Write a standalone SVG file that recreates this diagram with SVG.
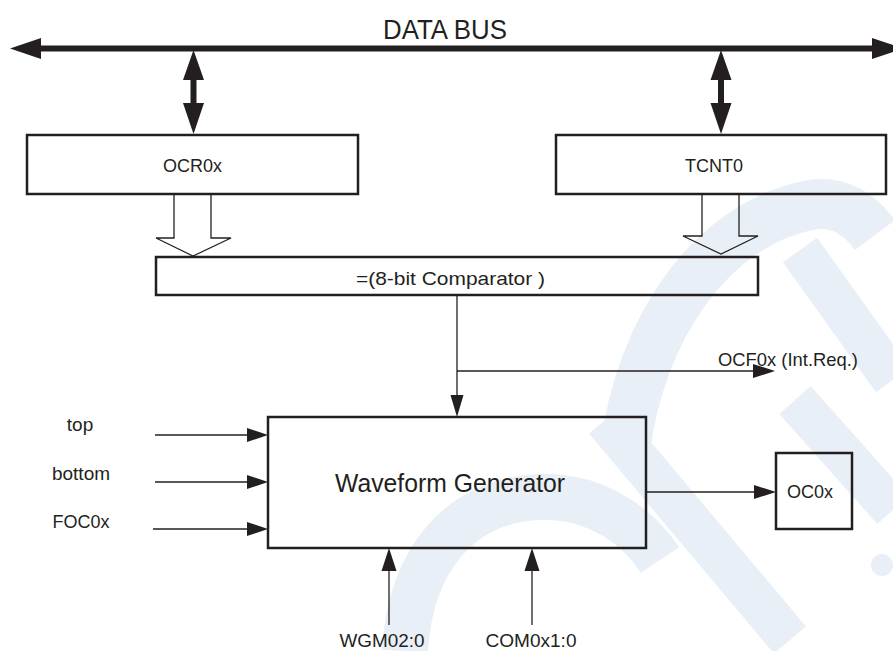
<svg xmlns="http://www.w3.org/2000/svg" width="893" height="651" viewBox="0 0 893 651">
<style>
  .box { fill: none; stroke: #231f20; stroke-width: 2.5; }
  .ln { fill: none; stroke: #231f20; stroke-width: 1.3; }
  .bus { fill: none; stroke: #231f20; stroke-width: 6; }
  .head { fill: #231f20; stroke: none; }
  .hollow { fill: none; stroke: #231f20; stroke-width: 1.3; stroke-linejoin: miter; }
  .t { font-family: "Liberation Sans", Arial, sans-serif; fill: #231f20; text-anchor: middle; }
  .s { font-size: 19px; }
  .wm { fill: none; stroke: #e9eff7; }
</style>
<rect width="893" height="651" fill="#ffffff"/>
<g id="watermark">
  <path class="wm" stroke-width="46" d="M 405 651 C 410 560 460 500 540 497 C 600 495 640 530 660 560"/>
  <path class="wm" stroke-width="50" d="M 625 450 C 640 330 710 225 810 205 C 840 200 860 215 875 235"/>
  <path class="wm" stroke-width="42" d="M 605 420 L 790 640"/>
  <path class="wm" stroke-width="42" d="M 800 250 L 893 380"/>
  <path class="wm" stroke-width="42" d="M 795 400 L 893 510"/>
  <circle cx="882" cy="565" r="11" fill="#e9eff7"/>
</g>
<g id="connectors">
  <line class="bus" x1="36" y1="48.5" x2="876" y2="48.5"/>
  <polygon class="head" points="10,48.5 41,38 41,59"/>
  <polygon class="head" points="903,48.5 872,38 872,59"/>
  <line class="bus" x1="193.5" y1="76" x2="193.5" y2="108"/>
  <polygon class="head" points="193.5,50 183,80 204,80"/>
  <polygon class="head" points="193.5,134 183,103 204,103"/>
  <line class="bus" x1="721" y1="76" x2="721" y2="108"/>
  <polygon class="head" points="721,50 710.5,80 731.5,80"/>
  <polygon class="head" points="721,134 710.5,103 731.5,103"/>
  <polygon class="hollow" points="174,194 174,238 156,238 193,256 231,238 211,238 211,194"/>
  <polygon class="hollow" points="702,194 702,236 683,236 721,254 758,236 739,236 739,194"/>
  <line class="ln" x1="457" y1="295" x2="457" y2="397"/>
  <polygon class="head" points="450.5,395 463.5,395 457,417"/>
  <line class="ln" x1="457" y1="371" x2="755" y2="371"/>
  <polygon class="head" points="753,364 753,378 775,371"/>
  <line class="ln" x1="155" y1="435" x2="249" y2="435"/>
  <polygon class="head" points="247,428 247,442 268,435"/>
  <line class="ln" x1="155" y1="482" x2="249" y2="482"/>
  <polygon class="head" points="247,475 247,489 268,482"/>
  <line class="ln" x1="153" y1="529" x2="249" y2="529"/>
  <polygon class="head" points="247,522 247,536 268,529"/>
  <line class="ln" x1="646" y1="492" x2="756" y2="492"/>
  <polygon class="head" points="754,485 754,499 776,492"/>
  <line class="ln" x1="389" y1="625" x2="389" y2="570"/>
  <polygon class="head" points="381.5,571 396.5,571 389,548"/>
  <line class="ln" x1="532" y1="625" x2="532" y2="570"/>
  <polygon class="head" points="524.5,571 539.5,571 532,548"/>
</g>
<text class="t" x="445" y="39" font-size="28" textLength="124" lengthAdjust="spacingAndGlyphs">DATA BUS</text>
<g id="ocr0x">
  <rect class="box" x="27" y="135" width="331" height="59"/>
  <text class="t s" x="192.5" y="172" textLength="59" lengthAdjust="spacingAndGlyphs">OCR0x</text>
</g>
<g id="tcnt0">
  <rect class="box" x="556" y="135" width="330" height="59"/>
  <text class="t s" x="714" y="172" textLength="58" lengthAdjust="spacingAndGlyphs">TCNT0</text>
</g>
<g id="comparator">
  <rect class="box" x="156" y="257" width="602" height="38"/>
  <text class="t" x="450.5" y="285" font-size="19" textLength="189" lengthAdjust="spacingAndGlyphs">=(8-bit Comparator )</text>
</g>
<text class="t s" x="788" y="366" textLength="140" lengthAdjust="spacingAndGlyphs">OCF0x (Int.Req.)</text>
<g id="waveform-generator">
  <rect class="box" x="268" y="417" width="378" height="131"/>
  <text class="t" x="450" y="492" font-size="25" textLength="230" lengthAdjust="spacingAndGlyphs">Waveform Generator</text>
</g>
<g id="oc0x">
  <rect class="box" x="776" y="453" width="76" height="76"/>
  <text class="t s" x="810" y="498" textLength="46" lengthAdjust="spacingAndGlyphs">OC0x</text>
</g>
<text class="t s" x="80" y="431">top</text>
<text class="t s" x="81" y="480">bottom</text>
<text class="t s" x="81" y="528" textLength="57" lengthAdjust="spacingAndGlyphs">FOC0x</text>
<text class="t s" x="382" y="647" textLength="85" lengthAdjust="spacingAndGlyphs">WGM02:0</text>
<text class="t s" x="531" y="647" textLength="91" lengthAdjust="spacingAndGlyphs">COM0x1:0</text>
</svg>
